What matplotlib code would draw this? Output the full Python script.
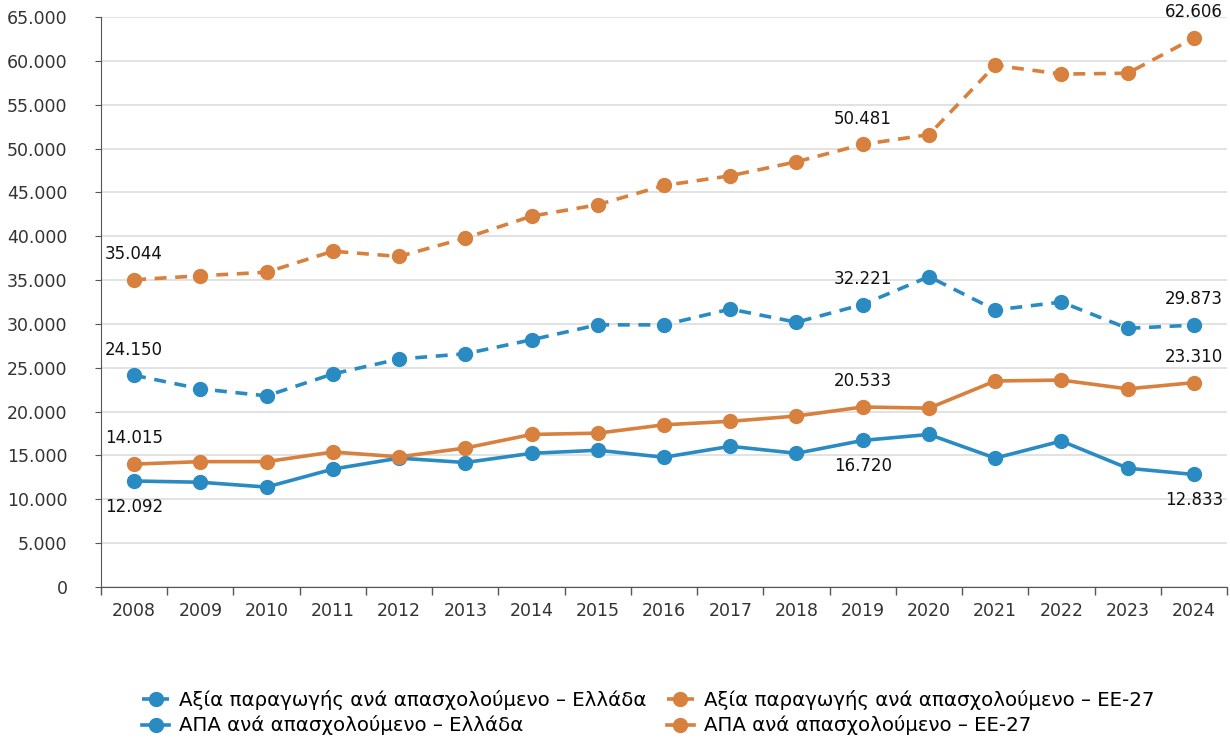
import matplotlib
matplotlib.use("Agg")
import numpy as np
from matplotlib import pyplot as plt
from matplotlib.ticker import FuncFormatter, MultipleLocator

plt.rcParams["font.family"] = ["DejaVu Sans"]

YEARS = [str(y) for y in range(2008, 2025)]

output_gr = [24150, 22600, 21800, 24300, 26000, 26600, 28200, 29900, 29900,
             31700, 30200, 32221, 35400, 31600, 32500, 29500, 29873]
output_eu = [35044, 35500, 35900, 38300, 37700, 39800, 42300, 43600, 45800,
             46900, 48500, 50481, 51600, 59500, 58500, 58600, 62606]
gva_gr = [12092, 11950, 11400, 13450, 14700, 14200, 15250, 15600, 14800,
          16050, 15250, 16720, 17400, 14700, 16650, 13550, 12833]
gva_eu = [14015, 14300, 14300, 15400, 14850, 15850, 17400, 17550, 18500,
          18900, 19500, 20533, 20400, 23500, 23600, 22600, 23310]

LABELS = [
    "Αξία παραγωγής ανά απασχολούμενο – Ελλάδα",
    "Αξία παραγωγής ανά απασχολούμενο – ΕΕ-27",
    "ΑΠΑ ανά απασχολούμενο – Ελλάδα",
    "ΑΠΑ ανά απασχολούμενο – ΕΕ-27",
]

# which points get a value label: index -> "above"/"below"
annot_output_gr = {0: "above", 11: "above", 16: "above"}
annot_output_eu = {0: "above", 11: "above", 16: "above"}
annot_gva_gr = {0: "below", 11: "below", 16: "below"}
annot_gva_eu = {0: "above", 11: "above", 16: "above"}

BLUE = "#2a8bc3"
ORANGE = "#d8803d"


def fmt_thousands(v, _=None):
    return f"{int(round(v)):,}".replace(",", ".")


fig = plt.figure(figsize=(12.3, 7.44), dpi=100)
ax = fig.add_axes([0.0821, 0.211, 0.9155, 0.766])

x = np.arange(len(YEARS))
series = [
    (output_gr, BLUE, "--", annot_output_gr),
    (output_eu, ORANGE, "--", annot_output_eu),
    (gva_gr, BLUE, "-", annot_gva_gr),
    (gva_eu, ORANGE, "-", annot_gva_eu),
]
handles = []
for (vals, color, ls, annots), label in zip(series, LABELS):
    line, = ax.plot(x, vals, color=color, linestyle=ls, linewidth=2.6,
                    marker="o", markersize=10, label=label, zorder=3)
    if ls == "--":
        line.set_dashes((3.3, 2.4))
    handles.append(line)
    for i, pos in annots.items():
        off = 12 if pos == "above" else -12
        ax.annotate(fmt_thousands(vals[i]), (x[i], vals[i]), xytext=(0, off),
                    textcoords="offset points", ha="center",
                    va="bottom" if pos == "above" else "top",
                    fontsize=12, color="#111111")

ax.set_ylim(0, 65000)
ax.set_xlim(-0.5, len(YEARS) - 0.5)
ax.yaxis.set_major_locator(MultipleLocator(5000))
ax.yaxis.set_major_formatter(FuncFormatter(fmt_thousands))
ax.set_xticks(x)
ax.set_xticklabels(YEARS)
ax.set_xticks(np.arange(-0.5, len(YEARS)), minor=True)
ax.tick_params(axis="x", which="major", length=0, pad=11, labelsize=12.5, labelcolor="#333333")
ax.tick_params(axis="x", which="minor", length=6, color="#555555", width=1)
ax.tick_params(axis="y", length=4, color="#555555", labelsize=12.5, labelcolor="#333333", pad=20)

ax.grid(axis="y", color="#dddddd", linewidth=1.2, zorder=0)
ax.set_axisbelow(True)
for side in ["top", "right"]:
    ax.spines[side].set_visible(False)
ax.spines["left"].set_color("#555555")
ax.spines["bottom"].set_color("#555555")

# legend fills column-wise, so order handles to read row-wise
order = [0, 2, 1, 3]
fig.legend(handles=[handles[i] for i in order], labels=[LABELS[i] for i in order],
           loc="upper center", bbox_to_anchor=(0.527, 0.097),
           ncol=2, frameon=False, fontsize=14.2, handlelength=1.4,
           columnspacing=1.0, labelspacing=0.3, handletextpad=0.5)

fig.savefig("out.png", dpi=100)
